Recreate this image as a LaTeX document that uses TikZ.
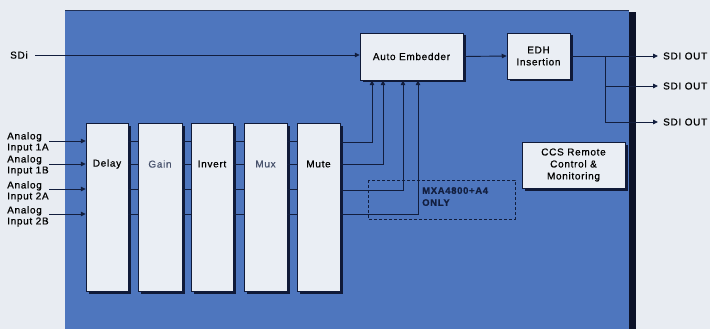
\documentclass[tikz,border=0pt]{standalone}
\usepackage{fontspec}
\setmainfont{Liberation Sans}[LetterSpace=7,FakeBold=0.7]
\usetikzlibrary{arrows.meta,shadows,calc}
\definecolor{bgc}{RGB}{232,236,242}
\definecolor{panel}{RGB}{78,118,190}
\definecolor{panedge}{RGB}{12,18,40}
\definecolor{boxc}{RGB}{234,238,244}
\definecolor{linec}{RGB}{18,30,62}
\definecolor{shad}{RGB}{16,26,56}
\tikzset{
  box/.style={draw=shad, line width=0.5pt, fill=boxc, inner sep=1pt, align=center,
    drop shadow={shadow xshift=2.5pt, shadow yshift=-2.5pt, fill=shad, opacity=1}},
  lbl/.style={inner sep=0pt, align=center, font=\fontsize{10}{11}\selectfont, text=black},
  llbl/.style={inner sep=0pt, align=left, font=\fontsize{10}{11}\selectfont, text=black},
  olbl/.style={inner sep=0pt, inner xsep=5pt, font=\fontsize{10}{11}\selectfont, text=black, anchor=west},
  arr/.style={draw=linec, line width=0.9pt, -{Triangle[length=5pt,width=4.5pt]}},
  ln/.style={draw=linec, line width=0.9pt},
}
\begin{document}
\begin{tikzpicture}[x=1pt,y=-1pt]
\useasboundingbox (0,0) rectangle (710,329);
\fill[bgc] (0,0) rectangle (710,329);
% panel
\fill[panel] (65,10) rectangle (629,329);
\fill[panedge] (629,12) rectangle (636,329);
\draw[panedge!70!panel, line width=0.8pt] (65,10.5) -- (629,10.5);
% boxes
\node[box, minimum width=103pt, minimum height=47pt] (ae) at (411.5,56.5) {\fontsize{10}{11}\selectfont Auto Embedder};
\node[box, minimum width=63pt, minimum height=46pt] (edh) at (538.5,56) {\fontsize{10}{11}\selectfont EDH\\Insertion};
\node[box, minimum width=103pt, minimum height=46pt] (ccs) at (573.5,165) {\fontsize{10}{11}\selectfont CCS Remote\\Control \&\\Monitoring};
\node[box, minimum width=42pt, minimum height=168pt] (delay) at (107,207) {};
\node[box, minimum width=44pt, minimum height=168pt] (gain) at (160,207) {};
\node[box, minimum width=42pt, minimum height=168pt] (invert) at (212,207) {};
\node[box, minimum width=43pt, minimum height=168pt] (mux) at (265.5,207) {};
\node[box, minimum width=43pt, minimum height=168pt] (mute) at (318.5,207) {};
\node[lbl] (tdelay) at (delay.center |- 0,164) {Delay};
\node[lbl, text=linec!75!boxc] (tgain) at (gain.center |- 0,164) {Gain};
\node[lbl] (tinvert) at (invert.center |- 0,164) {Invert};
\node[lbl, text=linec!75!boxc] (tmux) at (mux.center |- 0,164) {Mux};
\node[lbl] (tmute) at (mute.center |- 0,164) {Mute};
% SDi input
\node[lbl, anchor=west] (sdi) at (10,55) {SDi};
\draw[arr] (35,55) coordinate (sdis) -- (ae.west |- sdis);
% analog inputs
\node[llbl, anchor=north west] (a1) at (7,132) {Analog\\Input 1A};
\node[llbl, anchor=north west] (a2) at (7,155) {Analog\\Input 1B};
\node[llbl, anchor=north west] (a3) at (7,181) {Analog\\Input 2A};
\node[llbl, anchor=north west] (a4) at (7,206) {Analog\\Input 2B};
\foreach \y/\s in {141/a1,164/a2,189/a3,214/a4}{
  \draw[arr] (49,\y) -- (delay.west |- 0,\y);
  \draw[ln] (delay.east |- 0,\y) -- (gain.west |- 0,\y);
  \draw[ln] (gain.east |- 0,\y) -- (invert.west |- 0,\y);
  \draw[ln] (invert.east |- 0,\y) -- (mux.west |- 0,\y);
  \draw[ln] (mux.east |- 0,\y) -- (mute.west |- 0,\y);
}
% mute to auto embedder
\draw[arr] (mute.east |- 0,142) -| (372,0 |- ae.south);
\draw[arr] (mute.east |- 0,164) -| (383,0 |- ae.south);
\draw[arr] (mute.east |- 0,190) -| (403,0 |- ae.south);
\draw[arr] (mute.east |- 0,214) -| (418,0 |- ae.south);
% dashed region
\draw[linec, line width=0.6pt, dash pattern=on 3pt off 2pt] (368,180) rectangle (515,219);
\node[llbl, anchor=north west, font=\fontsize{9.5}{12}\selectfont\bfseries, text=linec] (mxa) at (422,187) {MXA4800+A4\\ONLY};
% AE to EDH
\draw[arr] (ae.east) -- (edh.west);
% outputs
\coordinate (br) at (605,56);
\node[olbl] (o1) at (658,56) {SDI OUT};
\node[olbl] (o2) at (658,86) {SDI OUT};
\node[olbl] (o3) at (658,122) {SDI OUT};
\draw[arr] (edh.east) -- (o1.west);
\draw[ln] (br) -- (br |- o3);
\draw[arr] (br |- o2) -- (o2.west);
\draw[arr] (br |- o3) -- (o3.west);
\end{tikzpicture}
\end{document}
